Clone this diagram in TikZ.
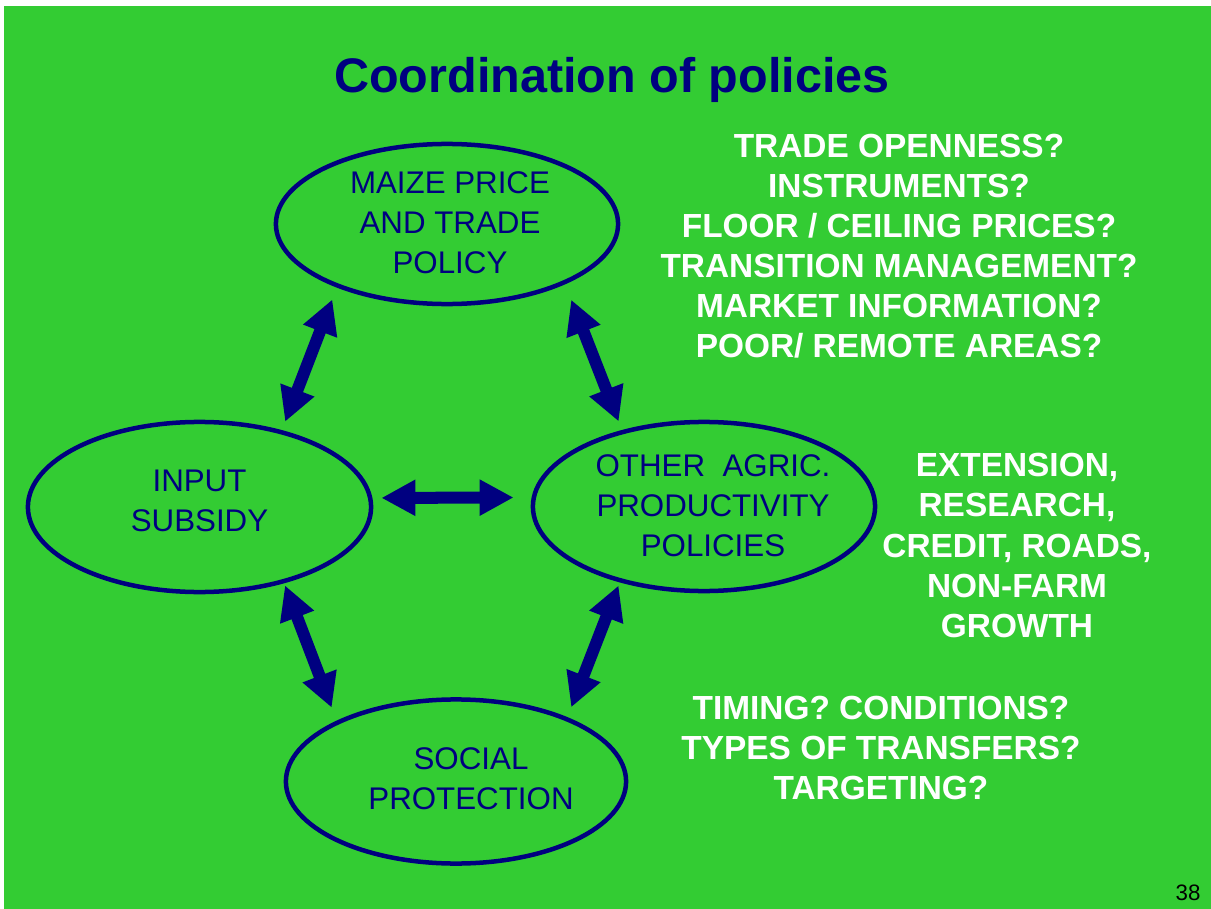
\documentclass[tikz,border=0pt]{standalone}
\usepackage{fontspec}
\setmainfont{Liberation Sans}
\usetikzlibrary{shapes.geometric, arrows.meta}
\definecolor{slidegreen}{RGB}{51,204,51}
\definecolor{darkblue}{RGB}{0,0,128}

\tikzset{
  policy/.style={ellipse, draw=darkblue, line width=0.045cm, inner sep=0pt},
  bluetext/.style={text=darkblue, align=center, font=\fontsize{8.9}{11.38}\selectfont},
  question/.style={text=white, align=center, font=\fontsize{9.5}{11.38}\selectfont\bfseries},
  link/.style={draw=darkblue, line width=0.12cm, >={Triangle[width=0.34cm,length=0.34cm]}, <->}
}

\begin{document}
\begin{tikzpicture}[x=0.01cm, y=-0.01cm]
\useasboundingbox (0,0) rectangle (1211,909);
\fill[white] (0,0) rectangle (1211,909);
\fill[slidegreen] (4,6) rectangle (1211,909);

\node[anchor=base, text=darkblue, font=\fontsize{13.8}{16}\selectfont\bfseries] (heading) at (612,93) {Coordination of policies};

% the four policy areas
\node[policy, minimum width=3.42cm, minimum height=1.60cm,
  label={[bluetext, xshift=0.03cm, yshift=0.01cm]center:{MAIZE PRICE\\AND TRADE\\POLICY}}] (maize) at (447,224) {};
\node[policy, minimum width=3.43cm, minimum height=1.70cm,
  label={[bluetext, yshift=0.06cm]center:{INPUT\\SUBSIDY}}] (input) at (199.5,507) {};
\node[policy, minimum width=3.42cm, minimum height=1.69cm,
  label={[bluetext, xshift=0.09cm, yshift=0.01cm]center:{OTHER\ \ AGRIC.\\PRODUCTIVITY\\POLICIES}}] (other) at (704,506.5) {};
\node[policy, minimum width=3.40cm, minimum height=1.64cm,
  label={[bluetext, xshift=0.15cm, yshift=0.03cm]center:{SOCIAL\\PROTECTION}}] (social) at (456,781.5) {};

% links between them
\draw[link, shorten <=0.127cm, shorten >=0.09cm] (maize.210) -- (input.43);
\draw[link, shorten <=0.166cm, shorten >=0.092cm] (maize.333) -- (other.137);
\draw[link, shorten <=0.09cm, shorten >=0.18cm] (input.3) -- (other.177);
\draw[link, shorten <=0.023cm, shorten >=0.139cm] (input.318) -- (social.153);
\draw[link, shorten <=0.034cm, shorten >=0.106cm] (other.222) -- (social.30);

% open questions
\node[question] (tradeq) at (899,246) {TRADE OPENNESS?\\INSTRUMENTS?\\FLOOR / CEILING PRICES?\\TRANSITION MANAGEMENT?\\MARKET INFORMATION?\\POOR/ REMOTE AREAS?};
\node[question] (agricq) at (1017,545.5) {EXTENSION,\\RESEARCH,\\CREDIT, ROADS,\\NON-FARM\\GROWTH};
\node[question] (socialq) at (881,748) {TIMING? CONDITIONS?\\TYPES OF TRANSFERS?\\TARGETING?};

\node[font=\fontsize{6.35}{7}\selectfont] (pagenum) at (1188,893) {38};
\end{tikzpicture}
\end{document}
